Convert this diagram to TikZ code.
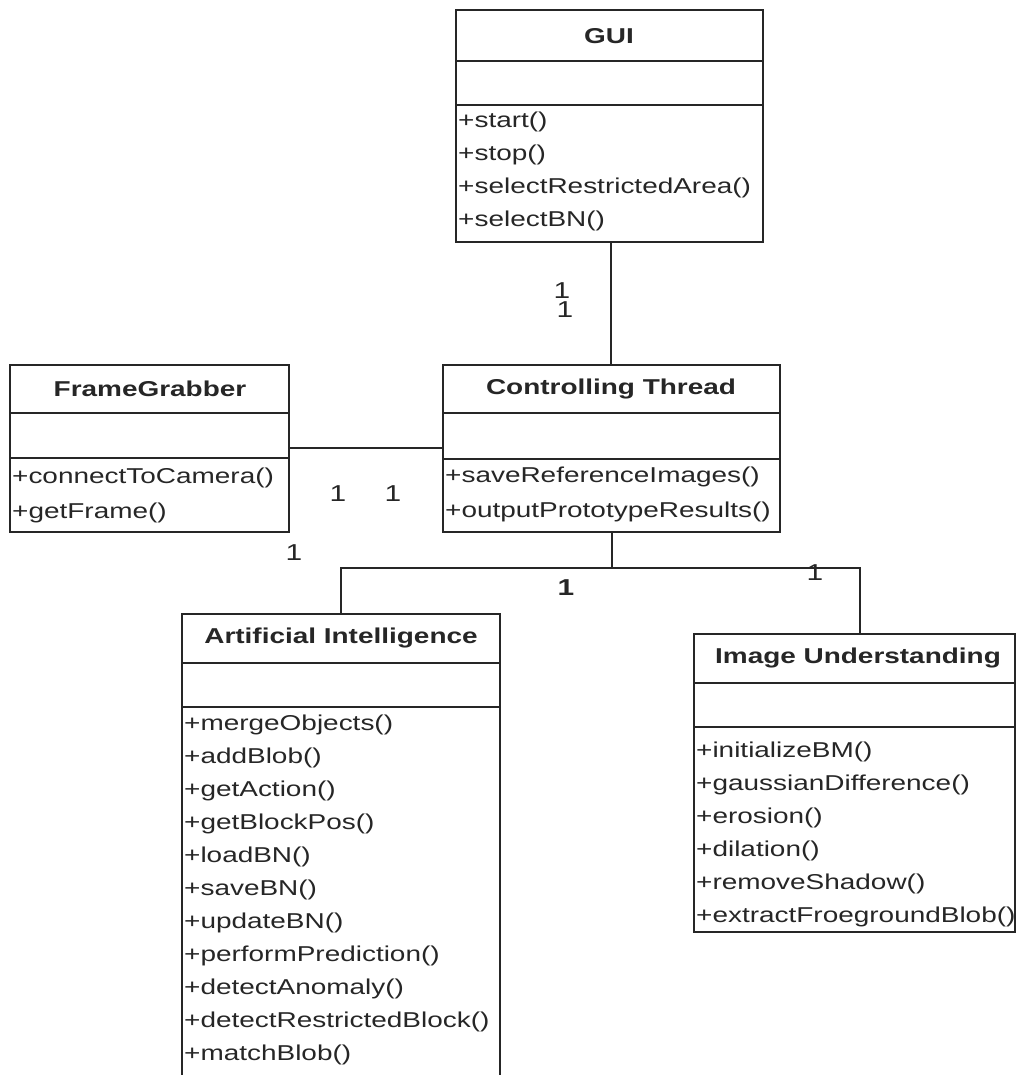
\documentclass[tikz,border=0pt]{standalone}
\usepackage{fontspec}
\setmainfont{Liberation Sans}[FakeStretch=1.3]
\begin{document}
\begin{tikzpicture}[x=1pt,y=-1pt,
  box/.style={draw=black!85,line width=1.6pt},
  ttl/.style={inner sep=0pt,font=\fontsize{21.5}{25}\selectfont\bfseries,text=black!85},
  meth/.style={anchor=west,inner sep=0pt,font=\fontsize{21.5}{25}\selectfont,text=black!85},
  mult/.style={inner sep=0pt,font=\fontsize{23}{26}\selectfont,text=black!85},
  link/.style={draw=black!85,line width=1.6pt}]
\useasboundingbox (0,0) rectangle (1016,1075);
\clip (0,0) rectangle (1016,1075);

% ---- GUI ----
\draw[box] (456,10) rectangle (763,242);
\draw[box] (456,61) -- (763,61) (456,105) -- (763,105);
\coordinate (guiS) at (611,242);
\node[ttl] (guiT) at (609,36) {GUI};
\node[meth] (gui1) at (458,122) {+start()};
\node[meth] (gui2) at (458,155) {+stop()};
\node[meth] (gui3) at (458,188) {+selectRestrictedArea()};
\node[meth] (gui4) at (458,221) {+selectBN()};

% ---- FrameGrabber ----
\draw[box] (10,365) rectangle (289,532);
\draw[box] (10,413) -- (289,413) (10,458) -- (289,458);
\coordinate (fgE) at (289,448);
\node[ttl] (fgT) at (150,389) {FrameGrabber};
\node[meth] (fg1) at (12,478) {+connectToCamera()};
\node[meth] (fg2) at (12,513) {+getFrame()};

% ---- Controlling Thread ----
\draw[box] (443,365) rectangle (780,532);
\draw[box] (443,413) -- (780,413) (443,459) -- (780,459);
\coordinate (ctN) at (611,365);
\coordinate (ctW) at (443,448);
\coordinate (ctS) at (612,532);
\node[ttl] (ctT) at (611,389) {Controlling Thread};
\node[meth] (ct1) at (445,477) {+saveReferenceImages()};
\node[meth] (ct2) at (445,512) {+outputPrototypeResults()};

% ---- Artificial Intelligence ----
\draw[box] (500,1090) -- (500,614) -- (182,614) -- (182,1090);
\draw[box] (182,663) -- (500,663) (182,707) -- (500,707);
\coordinate (aiN) at (341,614);
\node[ttl] (aiT) at (341,638) {Artificial Intelligence};
\node[meth] (ai1) at (184,725) {+mergeObjects()};
\node[meth] (ai2) at (184,758) {+addBlob()};
\node[meth] (ai3) at (184,791) {+getAction()};
\node[meth] (ai4) at (184,824) {+getBlockPos()};
\node[meth] (ai5) at (184,857) {+loadBN()};
\node[meth] (ai6) at (184,890) {+saveBN()};
\node[meth] (ai7) at (184,923) {+updateBN()};
\node[meth] (ai8) at (184,956) {+performPrediction()};
\node[meth] (ai9) at (184,989) {+detectAnomaly()};
\node[meth] (ai10) at (184,1022) {+detectRestrictedBlock()};
\node[meth] (ai11) at (184,1055) {+matchBlob()};

% ---- Image Understanding ----
\draw[box] (694,634) rectangle (1015,932);
\draw[box] (694,683) -- (1015,683) (694,727) -- (1015,727);
\coordinate (iuN) at (860,634);
\node[ttl] (iuT) at (858,658) {Image Understanding};
\node[meth] (iu1) at (696,752) {+initializeBM()};
\node[meth] (iu2) at (696,785) {+gaussianDifference()};
\node[meth] (iu3) at (696,818) {+erosion()};
\node[meth] (iu4) at (696,851) {+dilation()};
\node[meth] (iu5) at (696,884) {+removeShadow()};
\node[meth] (iu6) at (696,917) {+extractFroegroundBlob()};

% ---- associations ----
\coordinate (fork) at (612,568);
\coordinate (forkL) at (341,568);
\coordinate (forkR) at (860,568);
\draw[link] (guiS) -- (ctN);
\draw[link] (fgE) -- (ctW);
\draw[link] (ctS) -- (fork);
\draw[link] (aiN) -- (forkL) -- (forkR) -- (iuN);

% ---- multiplicities ----
\node[mult] (mGa) at (562,291) {1};
\node[mult] (mGb) at (565,310) {1};
\node[mult] (mF) at (338,494) {1};
\node[mult] (mC) at (393,494) {1};
\node[mult] (mF2) at (294,553) {1};
\node[mult,font=\fontsize{23}{26}\selectfont\bfseries] (mA) at (566,588) {1};
\node[mult] (mI) at (815,573) {1};
\end{tikzpicture}
\end{document}
